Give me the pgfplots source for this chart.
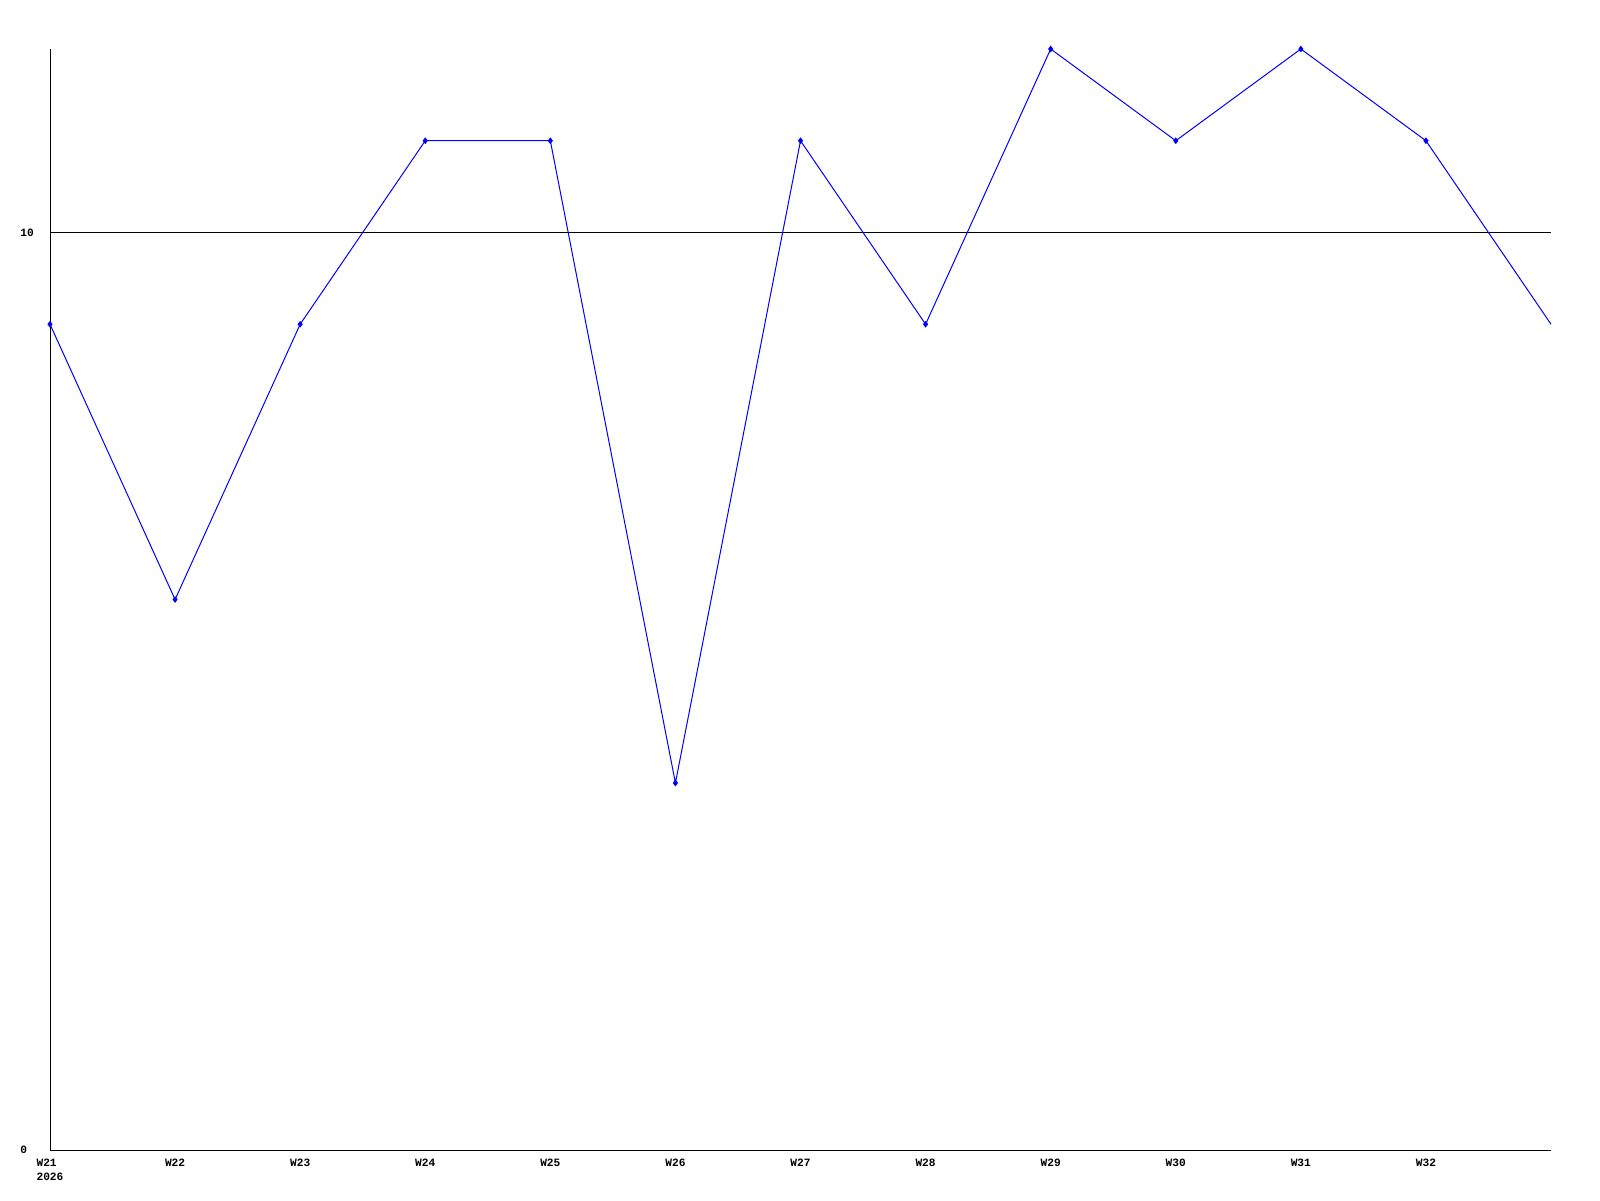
\documentclass[border=0pt]{standalone}
\usepackage{fontspec}
\setmainfont{Liberation Mono}
\usepackage{pgfplots}
\pgfplotsset{compat=1.18}

\begin{document}
\begin{tikzpicture}
  \useasboundingbox (0,0) rectangle (800pt,600pt);
  \begin{axis}[
    at={(25pt,25pt)},
    anchor=south west,
    scale only axis,
    width=750.5pt,
    height=550.5pt,
    xmin=0, xmax=12,
    ymin=0, ymax=12,
    axis x line*=bottom,
    axis y line*=left,
    axis line style={-, line width=0.5pt, black},
    xtick={0,...,11},
    xticklabels={{W21\\2026},W22,W23,W24,W25,W26,W27,W28,W29,W30,W31,W32},
    ytick={0,10},
    yticklabels={0,10},
    major tick length=0pt,
    ymajorgrids,
    grid style={black, line width=0.5pt},
    xticklabel style={font=\bfseries\fontsize{5.6}{7}\selectfont, align=left,
      anchor=north, inner sep=0pt, yshift=-4.5pt},
    yticklabel style={font=\bfseries\fontsize{5.6}{7}\selectfont,
      anchor=west, inner sep=0pt, xshift=-15pt},
    clip=false,
  ]
    \addplot[color=blue, line width=0.5pt, mark=diamond*, mark size=1.3pt,
      mark indices={1,...,12}]
      table[row sep=crcr]{
        0 9\\
        1 6\\
        2 9\\
        3 11\\
        4 11\\
        5 4\\
        6 11\\
        7 9\\
        8 12\\
        9 11\\
        10 12\\
        11 11\\
        12 9\\
      };
  \end{axis}
\end{tikzpicture}
\end{document}
